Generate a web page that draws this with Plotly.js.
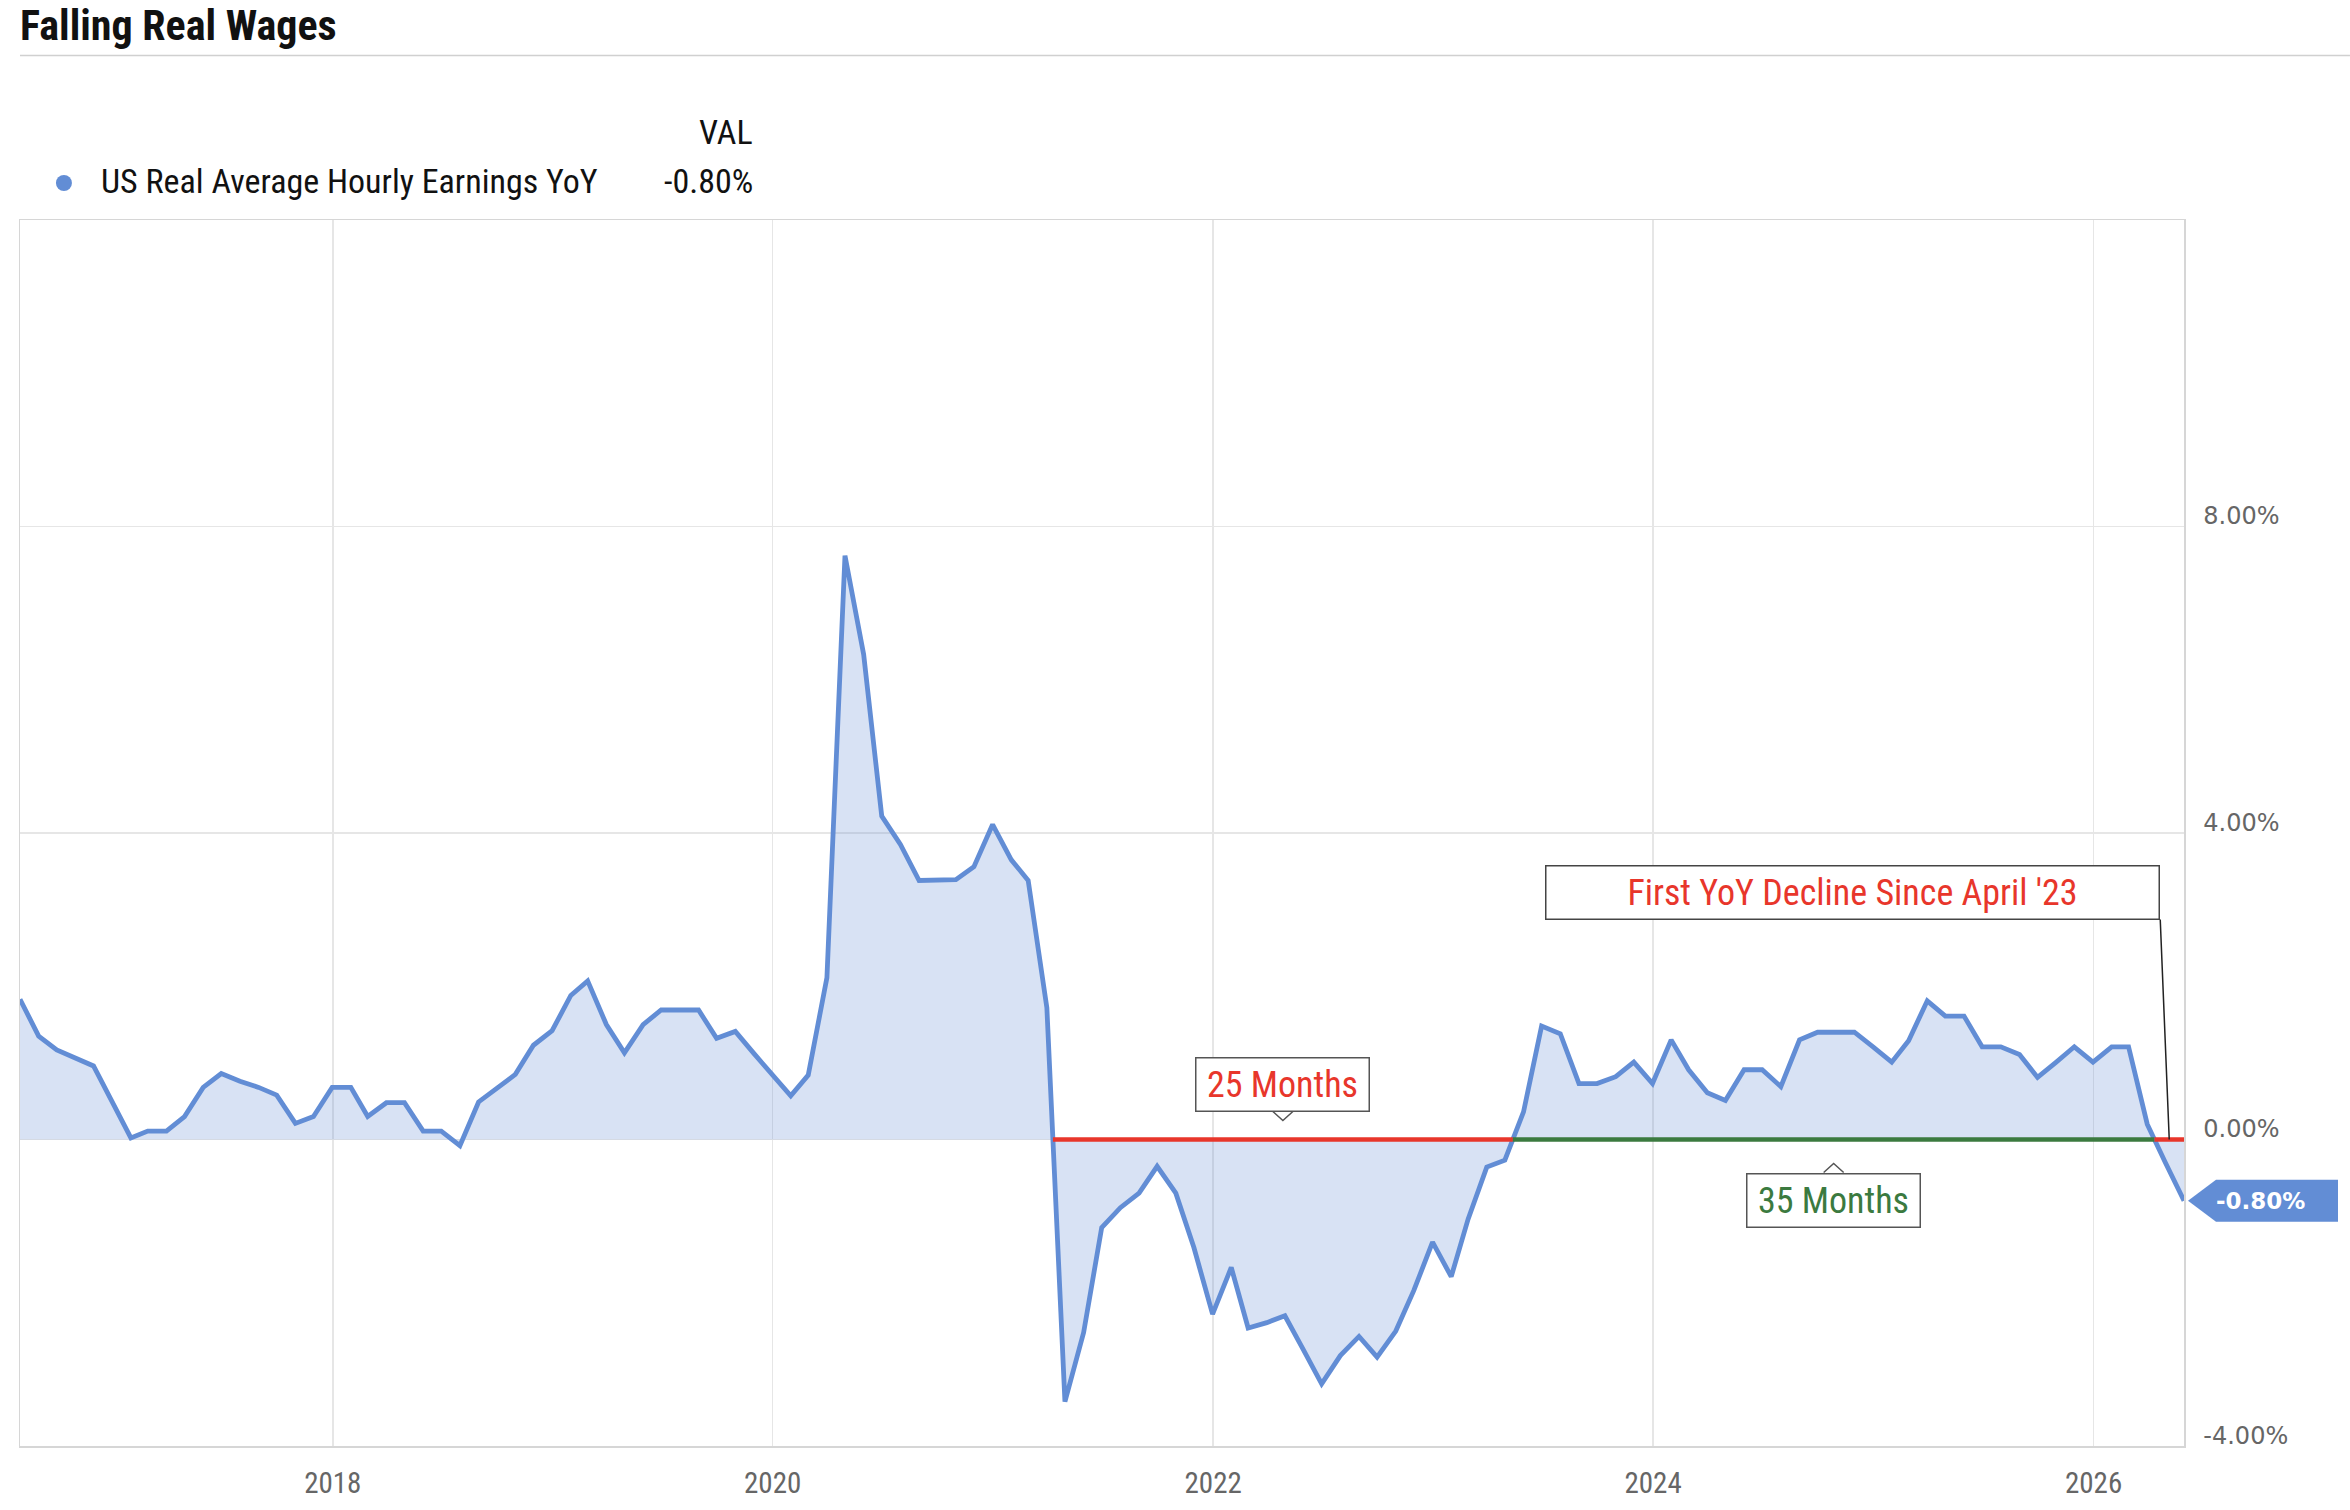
<!DOCTYPE html>
<html>
<head>
<meta charset="utf-8">
<script src="https://cdn.plot.ly/plotly-3.0.1.min.js"></script>
<style>
  html, body { margin: 0; padding: 0; background: #fff; }
  #chart { width: 2350px; height: 1510px; }
</style>
</head>
<body>
<div id="chart"></div>
<script>
// monthly readings, Jul 2016 .. May 2026 (percent, YoY)
var firstYear = 2016;
var firstMonth = 7;
var wageYoY = [
  1.83, 1.35, 1.17, 1.07, 0.96, 0.49, 0.02, 0.11, 0.11, 0.30, 0.68, 0.86,
  0.76, 0.68, 0.58, 0.21, 0.30, 0.68, 0.68, 0.30, 0.48, 0.48, 0.11, 0.11,
  -0.08, 0.49, 0.66, 0.85, 1.23, 1.42, 1.88, 2.07, 1.50, 1.13, 1.50, 1.69,
  1.69, 1.69, 1.32, 1.41, 1.13, 0.85, 0.57, 0.84, 2.11, 7.62, 6.33, 4.22,
  3.85, 3.38, 3.39, 3.39, 3.56, 4.11, 3.65, 3.38, 1.72, -3.42, -2.52, -1.15,
  -0.89, -0.70, -0.35, -0.70, -1.41, -2.28, -1.67, -2.46, -2.39, -2.30, -2.75, -3.19,
  -2.82, -2.57, -2.84, -2.50, -1.97, -1.34, -1.79, -1.04, -0.36, -0.27, 0.36, 1.48,
  1.38, 0.73, 0.73, 0.82, 1.01, 0.73, 1.30, 0.91, 0.61, 0.51, 0.91, 0.91,
  0.69, 1.30, 1.40, 1.40, 1.40, 1.21, 1.01, 1.29, 1.81, 1.61, 1.61, 1.21,
  1.21, 1.11, 0.81, 1.01, 1.21, 1.01, 1.21, 1.21, 0.20, -0.30, -0.80
];
var seriesName = 'US Real Average Hourly Earnings YoY';
var streakSince = '2021-01-01';
var streakLabels = ['25 Months', '35 Months'];
var calloutText = "First YoY Decline Since April '23";
var yTicks = [-4, 0, 4, 8];

var BLUE = '#628dd5';
var RED = '#e8362b';
var GREEN = '#3b7a3f';
var COND = "'Roboto Condensed', 'Liberation Sans Narrow', 'Arial Narrow', 'DejaVu Sans Condensed', Roboto, sans-serif";
var WIDE = "'DejaVu Sans', Verdana, sans-serif";

function fmt(ms) {
  return new Date(ms).toISOString().slice(0, 19).replace('T', ' ');
}
function pct(v) {
  return v.toFixed(2) + '%';
}

// month-end dates
var times = wageYoY.map(function (v, i) {
  var idx = firstMonth - 1 + i;
  return Date.UTC(firstYear + Math.floor(idx / 12), (idx % 12) + 1, 0);
});
var dates = times.map(fmt);

// zero crossings after streakSince
var sinceMs = Date.parse(streakSince);
var cross = [];
for (var i = 0; i < wageYoY.length - 1; i++) {
  var a = wageYoY[i], b = wageYoY[i + 1];
  if (times[i] >= sinceMs - 86400000 * 40 && (a > 0) !== (b > 0)) {
    var t = a / (a - b);
    cross.push(times[i] + t * (times[i + 1] - times[i]));
  }
}
var bounds = cross.concat([times[times.length - 1]]);
var segments = [];
for (var k = 0; k < bounds.length - 1; k++) {
  var midMs = (bounds[k] + bounds[k + 1]) / 2;
  // sign of data inside the span
  var j = 0;
  while (j < times.length - 1 && times[j] < midMs) j++;
  segments.push({x0: bounds[k], x1: bounds[k + 1], mid: midMs, neg: wageYoY[j] < 0});
}

var traces = [{
  x: dates, y: wageYoY, type: 'scatter', mode: 'lines',
  line: {color: BLUE, width: 4.8},
  fill: 'tozeroy', fillcolor: 'rgba(98,141,213,0.25)',
  hoverinfo: 'skip', showlegend: false
}];
segments.forEach(function (s) {
  traces.push({
    x: [fmt(s.x0), fmt(s.x1)], y: [0, 0], type: 'scatter', mode: 'lines',
    line: {color: s.neg ? RED : GREEN, width: 4.5},
    hoverinfo: 'skip', showlegend: false
  });
});

var last = wageYoY[wageYoY.length - 1];
var lastSeg = segments[segments.length - 1];

var annotations = [
  {xref: 'paper', yref: 'paper', x: 0.3397, y: 1.0718, xanchor: 'right', yanchor: 'middle',
   text: 'VAL', showarrow: false, font: {family: COND, size: 34, color: '#111'}},
  {xref: 'paper', yref: 'paper', x: 0.0365, y: 1.0318, xanchor: 'left', yanchor: 'middle',
   text: seriesName, showarrow: false, font: {family: COND, size: 34, color: '#111'}},
  {xref: 'paper', yref: 'paper', x: 0.3397, y: 1.0318, xanchor: 'right', yanchor: 'middle',
   text: pct(last), showarrow: false, font: {family: COND, size: 34, color: '#111'}},
  // value tag text
  {xref: 'paper', yref: 'y', x: 1, y: last, xshift: 76, xanchor: 'center', yanchor: 'middle',
   text: '<b>' + pct(last) + '</b>', showarrow: false,
   font: {family: WIDE, size: 23, color: '#fff'}},
  // callout with leader line
  {x: fmt(lastSeg.mid), y: 0, ax: -9, ay: -220, xanchor: 'right', yanchor: 'bottom',
   text: calloutText, showarrow: true, arrowhead: 0, arrowwidth: 1.5, arrowcolor: '#222',
   bgcolor: '#fff', bordercolor: '#444', borderwidth: 1.5, borderpad: 0, width: 612, height: 52,
   font: {family: COND, size: 36, color: RED}}
];

var shapes = [
  // rule under the title
  {type: 'line', xref: 'paper', yref: 'paper', x0: 0, x1: 1.0767, y0: 1.1342, y1: 1.1342,
   line: {color: '#d0d0d0', width: 1.5}},
  // legend dot
  {type: 'circle', xref: 'paper', yref: 'paper', xsizemode: 'pixel', ysizemode: 'pixel',
   xanchor: 0.0203, yanchor: 1.0302, x0: -8, x1: 8, y0: -8, y1: 8,
   fillcolor: BLUE, line: {width: 0}},
  // value tag body
  {type: 'path', xref: 'paper', yref: 'y', xsizemode: 'pixel', ysizemode: 'pixel',
   xanchor: 1, yanchor: last, path: 'M4,0 L32,21 L154,21 L154,-21 L32,-21 Z',
   fillcolor: BLUE, line: {width: 0}, layer: 'above'}
];

// streak boxes (first two spans)
segments.slice(0, streakLabels.length).forEach(function (s, n) {
  var up = s.neg;  // label sits above the line for the red span, below for green
  annotations.push({
    x: fmt(s.mid), y: 0, yshift: up ? 28 : -33, xanchor: 'center', yanchor: up ? 'bottom' : 'top',
    text: streakLabels[n], showarrow: false,
    bgcolor: '#fff', bordercolor: '#555', borderwidth: 1.5, borderpad: 0, width: 172, height: 52,
    font: {family: COND, size: 36, color: up ? RED : GREEN}
  });
  shapes.push({
    type: 'path', xref: 'x', yref: 'y', xsizemode: 'pixel', ysizemode: 'pixel',
    xanchor: fmt(s.mid), yanchor: 0,
    path: up ? 'M-10,28 L0,19 L10,28' : 'M-10,-33 L0,-24 L10,-33',
    line: {color: '#555', width: 1.5}, layer: 'above'
  });
});

var layout = {
  width: 2350, height: 1510,
  margin: {l: 20, r: 166, t: 220, b: 64},
  paper_bgcolor: '#fff', plot_bgcolor: '#fff',
  title: {
    text: '<b>Falling Real Wages</b>', xref: 'container', yref: 'container',
    x: 20 / 2350, xanchor: 'left', y: 1 - 25 / 1510, yanchor: 'middle',
    font: {family: COND, size: 42, color: '#111'}
  },
  xaxis: {
    type: 'date', range: [dates[0], dates[dates.length - 1]],
    tick0: '2018-01-01', dtick: 'M24', tickformat: '%Y',
    showgrid: true, gridcolor: '#e6e6e6', gridwidth: 1.5,
    showline: true, mirror: true, linecolor: '#d6d6d6', linewidth: 1.5,
    ticks: '', ticklabelstandoff: 11, zeroline: false,
    tickfont: {family: COND, size: 29, color: '#666'}
  },
  yaxis: {
    range: [-4, 12], side: 'right', tickmode: 'array',
    tickvals: yTicks, ticktext: yTicks.map(pct),
    showgrid: true, gridcolor: '#e6e6e6', gridwidth: 1.5,
    showline: true, mirror: true, linecolor: '#d6d6d6', linewidth: 1.5,
    ticks: '', zeroline: false, ticklabelposition: 'outside top',
    ticklabelstandoff: 13, ticklabelshift: 6,
    tickfont: {family: WIDE, size: 24, color: '#666'}
  },
  annotations: annotations,
  shapes: shapes,
  showlegend: false
};

Plotly.newPlot('chart', traces, layout, {staticPlot: true});
</script>
</body>
</html>
